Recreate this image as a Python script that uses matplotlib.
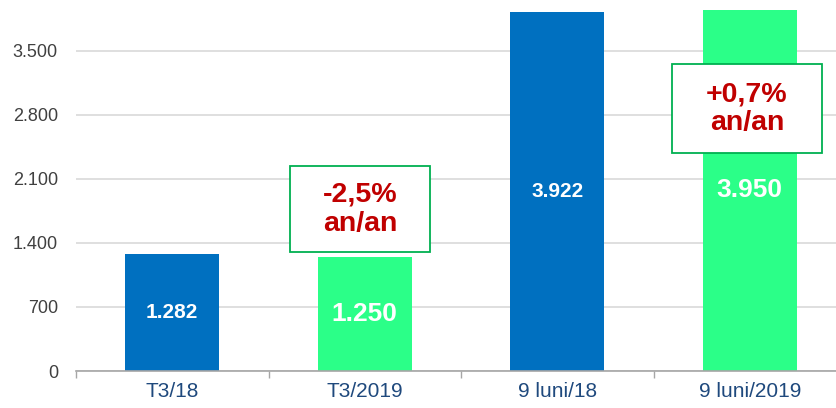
import numpy as np
import matplotlib
matplotlib.use("Agg")
import matplotlib.pyplot as plt
from matplotlib.patches import Rectangle

categories = ["T3/18", "T3/2019", "9 luni/18", "9 luni/2019"]
values = [1282, 1250, 3922, 3950]
value_labels = ["1.282", "1.250", "3.922", "3.950"]
yticks = [0, 700, 1400, 2100, 2800, 3500]
ytick_labels = ["0", "700", "1.400", "2.100", "2.800", "3.500"]
changes = ["-2,5%\nan/an", "+0,7%\nan/an"]

blue = "#0070c0"
green = "#2bff88"
bar_colors = [blue, green, blue, green]
label_sizes = [15, 19, 15, 19]

plt.rcParams['font.family'] = ['Liberation Sans', 'DejaVu Sans']

fig = plt.figure(figsize=(8.37, 4.08), dpi=100)
ax = fig.add_axes([76 / 837, 37 / 408, 770 / 837, 371 / 408])

x = np.arange(len(categories))
bars = ax.bar(x, values, width=0.49, color=bar_colors, zorder=2)

# etichete valori in mijlocul barelor
for b, lab, fs in zip(bars, value_labels, label_sizes):
    ax.text(b.get_x() + b.get_width() / 2, b.get_height() / 2, lab,
            ha='center', va='center', color='white', fontsize=fs,
            fontweight='bold', zorder=3)

ax.set_xlim(-0.5, 3.5)
ax.set_ylim(0, 4054)
ax.set_yticks(yticks)
ax.set_yticklabels(ytick_labels, color='#404040', fontsize=13)
ax.set_xticks(x)
ax.set_xticklabels(categories, color='#1f497d', fontsize=15)
ax.set_xticks(np.arange(-0.5, 4, 1), minor=True)
ax.tick_params(axis='x', which='major', length=0, pad=8)
ax.tick_params(axis='x', which='minor', length=5, color='#a6a6a6', width=1)
ax.tick_params(axis='y', length=0, pad=13)

ax.grid(axis='y', color='#d9d9d9', linewidth=1.2, zorder=0)
ax.set_axisbelow(True)
for s in ['top', 'right', 'left']:
    ax.spines[s].set_visible(False)
ax.spines['bottom'].set_color('#a6a6a6')
ax.spines['bottom'].set_linewidth(1.2)
ax.spines['bottom'].set_zorder(4)

# casete cu variatia an/an
boxes = [(0.612, 1300, 0.727, 940), (2.596, 2382, 0.779, 972)]
for (bx, by, bw, bh), txt in zip(boxes, changes):
    ax.add_patch(Rectangle((bx, by), bw, bh, facecolor='white',
                           edgecolor='#00b050', linewidth=1.3, zorder=5))
    ax.text(bx + bw / 2, by + bh / 2, txt, ha='center', va='center',
            color='#c00000', fontsize=20.5, fontweight='bold',
            linespacing=1.15, zorder=6)

fig.savefig("out.png", dpi=100)
